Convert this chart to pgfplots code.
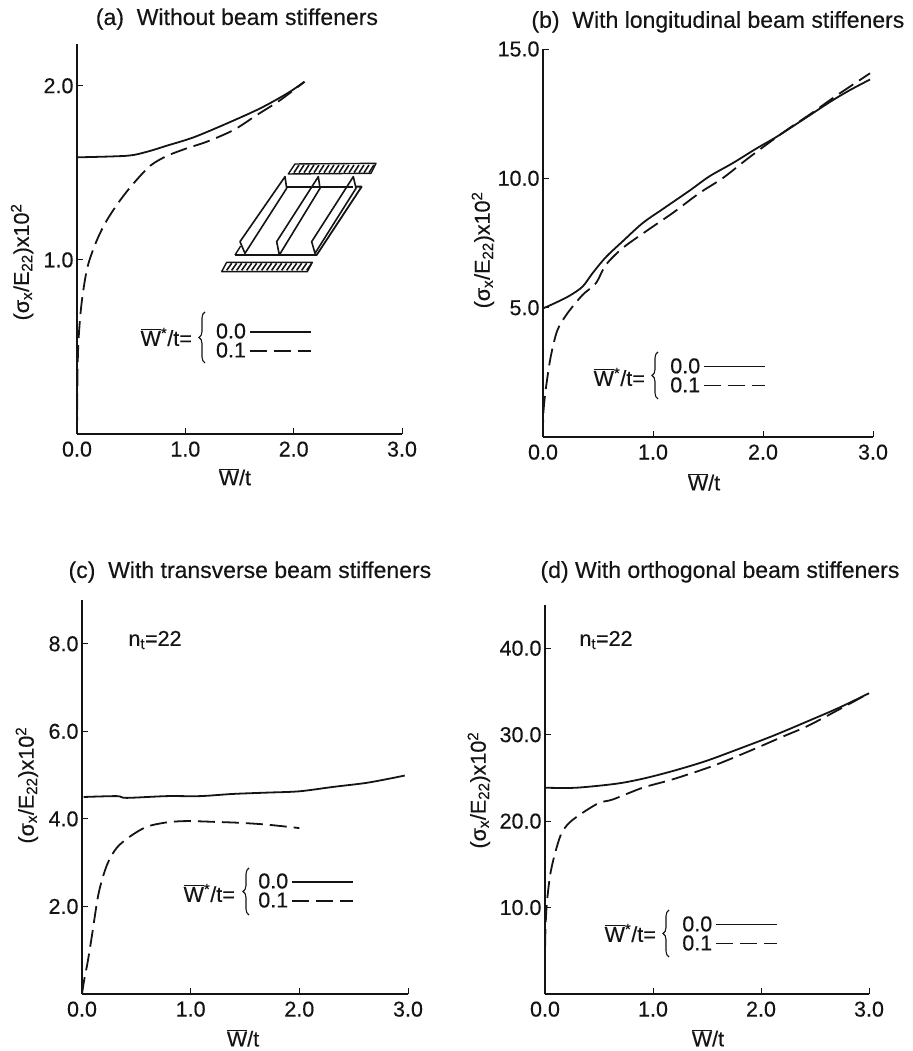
\documentclass[border=0pt]{standalone}
\usepackage{pgfplots}
\pgfplotsset{compat=1.18}
\usepackage{fontspec}
\setmainfont{Liberation Sans}[FakeBold=0.35]
\usetikzlibrary{decorations.pathreplacing}
\newcommand{\tk}{\fontsize{21.5}{24}\selectfont}
\newcommand{\ttl}{\fontsize{23}{26}\selectfont}
\newcommand{\ylab}{(σ\textsubscript{x}/E\textsubscript{22})x10\textsuperscript{2}}
\newcommand{\wbar}{\(\overline{\mbox{W}}\)/t}
\newcommand{\wstar}{\(\overline{\mbox{W}}\)\textsuperscript{*}/t=}
\definecolor{ink}{gray}{0.08}
\pgfplotsset{
  panel/.style={
    scale only axis, clip=false,
    axis x line*=bottom, axis y line*=left,
    xmin=0, xmax=3, ymin=0,
    xtick={0,1,2,3},
    tick align=inside, major tick length=6pt,
    tick style={ink, line width=0.9pt},
    axis line style={ink, line width=1.3pt},
    tick label style={font=\tk, text=ink},
    every x tick label/.append style={yshift=-4pt},
    /pgf/number format/.cd, fixed, fixed zerofill, precision=1, assume math mode=true,
    /pgfplots/.cd,
    label style={font=\tk, text=ink},
    title style={font=\ttl, text=ink, anchor=center},
    legend cell align=left, legend plot pos=right,
    legend image code/.code={\draw[##1] (0pt,0pt) -- (61pt,0pt);},
  },
  lg/.style 2 args={legend style={at={(axis description cs:#1,#2)}, anchor=west, draw=none, fill=none,
    font=\tk, inner sep=0pt, row sep=2.5pt, nodes={inner ysep=0pt, inner xsep=3pt, text=ink}}},
  sol/.style={ink, line width=1.8pt, smooth},
  das/.style={ink, line width=1.8pt, smooth, dash pattern=on 17pt off 7pt},
  every axis title/.style={anchor=center},
}
\begin{document}
\begin{tikzpicture}
\useasboundingbox (0,0) rectangle (912pt,1051pt);

% (a)
\begin{axis}[panel, at={(77pt,617pt)}, anchor=south west, width=325pt, height=390pt,
  ymax=2.24, ytick={1,2}, lg={0.418}{0.238},
  title={(a)\ \ Without beam stiffeners}, title style={at={(axis description cs:0.492,1.064)}},
  xlabel={\wbar}, xlabel style={at={(axis description cs:0.486,-0.110)},anchor=center},
  ylabel={\ylab}, ylabel style={at={(axis description cs:-0.169,0.441)},anchor=center}]
\addplot[sol] coordinates {(0,1.589)(0.46,1.598)(0.646,1.621)(0.83,1.656)(1.077,1.704)(1.385,1.784)(1.69,1.870)(1.94,1.956)(2.1,2.023)};
\addlegendentry{0.0}
\addplot[das] coordinates {(0,0)(0.006,0.388)(0.018,0.579)(0.046,0.77)(0.098,0.962)(0.185,1.115)(0.277,1.229)(0.4,1.344)(0.523,1.44)(0.677,1.541)(0.83,1.597)(1.015,1.641)(1.2,1.679)(1.446,1.746)(1.66,1.832)(1.877,1.918)(2.1,2.023)};
\addlegendentry{0.1}
\end{axis}

% (b)
\begin{axis}[panel, at={(543pt,614pt)}, anchor=south west, width=330pt, height=388pt,
  ymax=15, ytick={5,10,15}, lg={0.376}{0.157},
  title={(b)\ \ With longitudinal beam stiffeners}, title style={at={(axis description cs:0.53,1.07)}},
  xlabel={\wbar}, xlabel style={at={(axis description cs:0.488,-0.116)},anchor=center},
  ylabel={\ylab}, ylabel style={at={(axis description cs:-0.182,0.482)},anchor=center}]
\addplot[sol] coordinates {(0,4.97)(0.115,5.19)(0.237,5.45)(0.359,5.81)(0.45,6.33)(0.571,6.95)(0.723,7.56)(0.906,8.27)(1.088,8.81)(1.331,9.52)(1.514,10.08)(1.726,10.59)(1.939,11.15)(2.122,11.6)(2.365,12.27)(2.608,12.95)(2.79,13.41)(2.973,13.82)};
\addlegendentry{0.0}
\addplot[das] coordinates {(0,0)(0.003,0.9)(0.024,1.81)(0.07,3.1)(0.131,4.13)(0.222,4.78)(0.359,5.49)(0.48,5.94)(0.571,6.65)(0.723,7.3)(0.936,7.95)(1.179,8.66)(1.422,9.43)(1.635,10.01)(1.848,10.72)(2.03,11.3)(2.243,11.95)(2.426,12.47)(2.638,13.11)(2.82,13.63)(2.973,14.06)};
\addlegendentry{0.1}
\end{axis}

% (c)
\begin{axis}[panel, at={(82pt,57pt)}, anchor=south west, width=326pt, height=394pt,
  ymax=9, ytick={2,4,6,8}, lg={0.531}{0.261},
  title={(c)\ \ With transverse beam stiffeners}, title style={at={(axis description cs:0.515,1.071)}},
  xlabel={\wbar}, xlabel style={at={(axis description cs:0.494,-0.112)},anchor=center},
  ylabel={\ylab}, ylabel style={at={(axis description cs:-0.169,0.53)},anchor=center}]
\addplot[sol] coordinates {(0.015,4.5)(0.32,4.52)(0.41,4.48)(0.78,4.52)(1.086,4.52)(1.39,4.57)(1.70,4.6)(2.0,4.63)(2.31,4.73)(2.61,4.82)(2.83,4.92)(2.97,4.99)};
\addlegendentry{0.0}
\addplot[das] coordinates {(0,0)(0.02,0.32)(0.05,0.70)(0.09,1.31)(0.153,2.3)(0.23,2.95)(0.32,3.34)(0.443,3.6)(0.596,3.82)(0.78,3.92)(0.963,3.95)(1.239,3.93)(1.453,3.91)(1.697,3.87)(2.0,3.79)};
\addlegendentry{0.1}
\end{axis}

% (d)
\begin{axis}[panel, at={(545pt,57pt)}, anchor=south west, width=324pt, height=389pt,
  ymax=45, ytick={10,20,30,40}, lg={0.414}{0.154},
  title={(d) With orthogonal beam stiffeners}, title style={at={(axis description cs:0.54,1.085)}},
  xlabel={\wbar}, xlabel style={at={(axis description cs:0.503,-0.113)},anchor=center},
  ylabel={\ylab}, ylabel style={at={(axis description cs:-0.204,0.524)},anchor=center}]
\addplot[sol] coordinates {(0.01,23.86)(0.287,23.86)(0.657,24.32)(0.904,24.9)(1.182,25.79)(1.49,26.95)(1.8,28.38)(2.108,29.85)(2.417,31.47)(2.725,33.13)(3.0,34.79)};
\addlegendentry{0.0}
\addplot[das] coordinates {(0,0)(0.002,6.3)(0.015,10.15)(0.046,13.63)(0.086,15.95)(0.148,18.46)(0.225,19.81)(0.349,20.97)(0.503,22.12)(0.627,22.5)(0.904,23.86)(1.182,24.83)(1.552,26.37)(1.892,28.1)(2.216,29.85)(2.432,31.0)(2.725,32.93)(3.0,34.79)};
\addlegendentry{0.1}
\end{axis}

% annotations in pixel coordinates
\begin{scope}[x=1pt,y=-1pt,shift={(0pt,1051pt)},every node/.style={font=\tk,text=ink,inner sep=0pt}]
\node[anchor=east] at (192,337) {\wstar};
\node[anchor=east] at (645,377) {\wstar};
\node[anchor=east] at (235,893) {\wstar};
\node[anchor=east] at (656,933) {\wstar};
\node at (155,640) {n\textsubscript{t}=22};
\node at (606,640) {n\textsubscript{t}=22};
\draw[ink,line width=1.1pt,decorate,decoration={brace,amplitude=6pt}] (205,363)--(205,312);
\draw[ink,line width=1.1pt,decorate,decoration={brace,amplitude=6pt}] (658,399)--(658,352);
\draw[ink,line width=1.1pt,decorate,decoration={brace,amplitude=6pt}] (249,915)--(249,868);
\draw[ink,line width=1.1pt,decorate,decoration={brace,amplitude=6pt}] (669,957)--(669,910);
\end{scope}

% inset sketch of the stiffened panel
\begin{scope}[x=0.33333pt,y=-0.33333pt,shift={(0pt,1051pt)},ink,line width=1.4pt,line join=round]
\draw (865,522)--(885,492)--(1128,490)--(1113,520)--cycle;
\foreach \h in {0,...,15} {\draw[line width=1.6pt] ({882+\h*15},518)--({897+\h*15},495);}
\draw (665,815)--(680,787)--(937,787)--(922,815)--cycle;
\foreach \h in {0,...,16} {\draw[line width=1.6pt] ({680+\h*15},811)--({695+\h*15},790);}
\draw[line width=1.8pt] (705,765)--(950,765)--(1085,560)--(1068,560);
\draw[line width=1.8pt] (860,560)--(1060,560);
\draw (705,765)--(722,738);
\draw[line width=1.6pt] (720,725)--(855,530)--(860,565)--(735,760)--cycle;
\draw[line width=1.6pt] (830,725)--(955,530)--(960,565)--(838,765)--cycle;
\draw[line width=1.6pt] (935,725)--(1060,530)--(1068,565)--(945,760)--cycle;
\end{scope}
\end{tikzpicture}
\end{document}
